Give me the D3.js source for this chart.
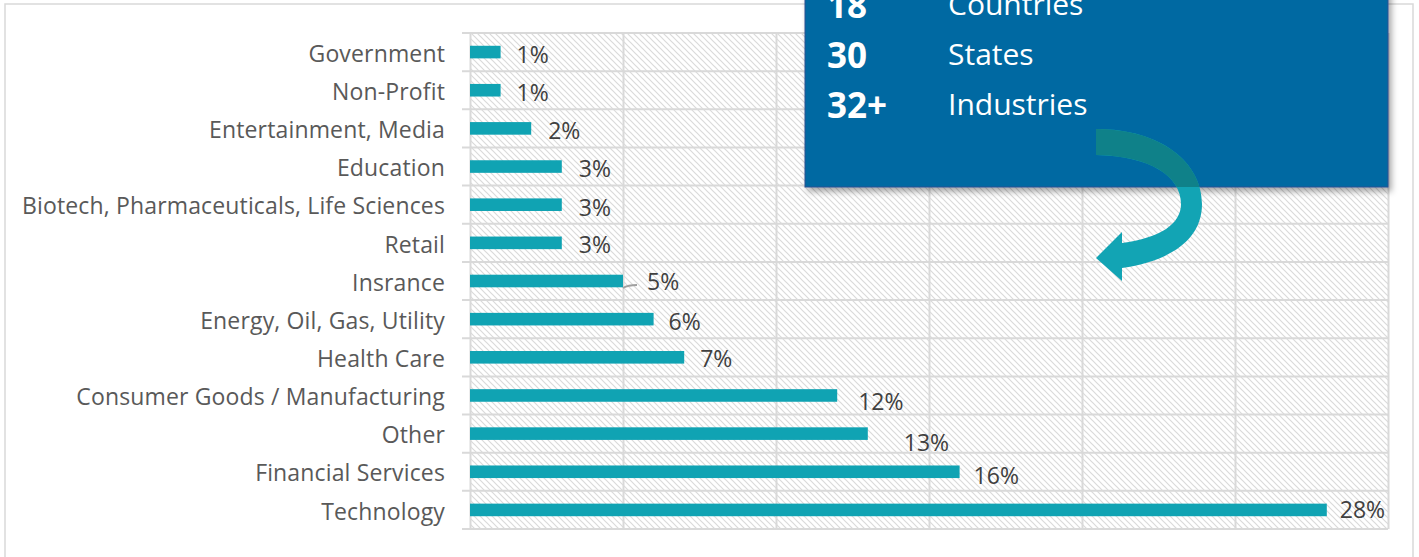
<!DOCTYPE html>
<html>
<head>
<meta charset="utf-8">
<script src="https://cdnjs.cloudflare.com/ajax/libs/d3/7.8.5/d3.min.js"></script>
<style>
  body { margin: 0; background: #fff; }
  .catLabel { font-family: "Open Sans", sans-serif; font-size: 23px; fill: #595959; letter-spacing: 0.15px; }
  .valLabel { font-family: "Open Sans", sans-serif; font-size: 23px; fill: #404040; }
  .statNum { font-family: "Open Sans", sans-serif; font-size: 35px; font-weight: bold; fill: #fff; }
  .statText { font-family: "Open Sans", sans-serif; font-size: 30px; fill: #fff; }
</style>
</head>
<body>
<script>
(function(){

  //chart data
  var categories = ["Government", "Non-Profit", "Entertainment, Media", "Education", "Biotech, Pharmaceuticals, Life Sciences", "Retail", "Insrance", "Energy, Oil, Gas, Utility", "Health Care", "Consumer Goods / Manufacturing", "Other", "Financial Services", "Technology"];
  var shares = [1, 1, 2, 3, 3, 3, 5, 6, 7, 12, 13, 16, 28]; //percent of clients
  var xTicks = [0, 5, 10, 15, 20, 25, 30];
  var statNumbers = ["18", "30", "32+"];
  var statLabels = ["Countries", "States", "Industries"];

  //data label nudges [dx from bar end, dy from row centre], like the hand-placed excel labels
  var labelNudge = [[16,3],[16,3],[17,3],[17,2.5],[17,3],[17,2],[24,1],[15,3],[16,2],[21,6.5],[36,9.5],[14,4],[13,0]];

  window.onload = setChart();

  function setChart(){
    var width = 1419,
        height = 557,
        plotLeft = 470,
        plotRight = 1388,
        plotTop = 33,
        plotBottom = 529;

    var svg = d3.select("body")
      .append("svg")
      .attr("width", width)
      .attr("height", height);

    var defs = svg.append("defs");

    //light diagonal hatch used as plot area fill
    var hatch = defs.append("pattern")
      .attr("id", "hatch")
      .attr("patternUnits", "userSpaceOnUse")
      .attr("width", 6)
      .attr("height", 6);
    hatch.append("path")
      .attr("d", "M-1,-1L7,7M-1,5L1,7M5,-1L7,1")
      .attr("stroke", "#dadada")
      .attr("stroke-width", 1.2);

    var shadow = defs.append("filter")
      .attr("id", "shadow")
      .attr("x", "-10%").attr("y", "-10%")
      .attr("width", "120%").attr("height", "130%");
    shadow.append("feDropShadow")
      .attr("dx", 3).attr("dy", 4)
      .attr("stdDeviation", 3)
      .attr("flood-color", "#000")
      .attr("flood-opacity", 0.35);

    var x = d3.scaleLinear() //share axis, 0 to 30%
      .domain([0, 30])
      .range([plotLeft, plotRight]);

    var y = d3.scaleBand() //one row per industry
      .domain(categories)
      .range([plotTop, plotBottom]);

    var barHeight = y.bandwidth() * 0.33;

    //outer chart frame
    svg.append("rect")
      .attr("x", 5)
      .attr("y", 4)
      .attr("width", 1408)
      .attr("height", 600)
      .attr("fill", "none")
      .attr("stroke", "#d9d9d9")
      .attr("stroke-width", 1.5);

    //plot area background
    svg.append("rect")
      .attr("x", plotLeft)
      .attr("y", plotTop)
      .attr("width", plotRight - plotLeft)
      .attr("height", plotBottom - plotTop)
      .attr("fill", "url(#hatch)");

    //vertical gridlines
    svg.append("g")
      .attr("transform", "translate(0," + plotBottom + ")")
      .call(d3.axisBottom(x).tickValues(xTicks).tickSize(-(plotBottom - plotTop)).tickFormat(""))
      .call(function(g){ g.select(".domain").remove(); })
      .selectAll("line")
      .attr("stroke", "#d9d9d9")
      .attr("stroke-width", 2);

    //horizontal row boundaries with outside tick marks
    var bounds = categories.map(function(c){ return y(c); }).concat([plotBottom]);
    svg.append("g")
      .selectAll("line")
      .data(bounds)
      .enter()
      .append("line")
      .attr("x1", plotLeft - 8)
      .attr("x2", plotRight)
      .attr("y1", function(d){ return d; })
      .attr("y2", function(d){ return d; })
      .attr("stroke", "#d9d9d9")
      .attr("stroke-width", 2);

    //bars
    svg.selectAll(".bar")
      .data(shares)
      .enter()
      .append("rect")
      .attr("class", "bar")
      .attr("x", x(0))
      .attr("y", function(d, i){ return y(categories[i]) + (y.bandwidth() - barHeight) / 2; })
      .attr("width", function(d){ return x(d) - x(0); })
      .attr("height", barHeight)
      .attr("fill", "#10a3b3");

    //category labels
    svg.selectAll(".catLabel")
      .data(categories)
      .enter()
      .append("text")
      .attr("class", "catLabel")
      .attr("x", plotLeft - 25)
      .attr("y", function(d){ return y(d) + y.bandwidth() / 2; })
      .attr("dy", "0.42em")
      .attr("text-anchor", "end")
      .text(function(d){ return d; });

    //leader line for the 5% label
    var insIndex = categories.indexOf("Insrance");
    var insY = y(categories[insIndex]) + y.bandwidth() / 2;
    svg.append("path")
      .attr("d", "M" + x(shares[insIndex]) + "," + (insY + 7) + "Q" + (x(shares[insIndex]) + 5) + "," + (insY + 4) + " " + (x(shares[insIndex]) + 14) + "," + (insY + 4))
      .attr("fill", "none")
      .attr("stroke", "#a0a0a0")
      .attr("stroke-width", 2);

    //value labels
    svg.selectAll(".valLabel")
      .data(shares)
      .enter()
      .append("text")
      .attr("class", "valLabel")
      .attr("x", function(d, i){ return x(d) + labelNudge[i][0]; })
      .attr("y", function(d, i){ return y(categories[i]) + y.bandwidth() / 2 + labelNudge[i][1]; })
      .attr("dy", "0.35em")
      .text(function(d){ return d + "%"; });

    setCallout(svg);
  };

  //blue stats box with curved arrow pointing to the chart
  function setCallout(svg){
    var boxLeft = 805, boxRight = 1388, boxBottom = 187;

    svg.append("rect")
      .attr("x", boxLeft)
      .attr("y", -20)
      .attr("width", boxRight - boxLeft)
      .attr("height", boxBottom + 20)
      .attr("fill", "#0669a2")
      .attr("stroke", "#2c5190")
      .attr("stroke-width", 1)
      .attr("filter", "url(#shadow)");

    var rows = svg.selectAll(".stat")
      .data(statNumbers)
      .enter()
      .append("g")
      .attr("transform", function(d, i){ return "translate(0," + (18 + i * 50) + ")"; });

    rows.append("text")
      .attr("class", "statNum")
      .attr("x", 827)
      .text(function(d){ return d; });

    rows.append("text")
      .attr("class", "statText")
      .attr("x", 948)
      .attr("y", -3)
      .text(function(d, i){ return statLabels[i]; });

    var arrowPath = "M1096,129C1162,129 1202,163 1202,204C1202,240 1170,261 1122,268L1122,281L1096,258L1122,232L1122,243C1160,238 1181,224 1181,204C1181,176 1150,156 1096,155Z";

    svg.select("defs").append("clipPath")
      .attr("id", "inBox")
      .append("rect")
      .attr("x", boxLeft).attr("y", 0)
      .attr("width", boxRight - boxLeft).attr("height", boxBottom);

    svg.append("path") //part over white
      .attr("d", arrowPath)
      .attr("fill", "#12a4b4");

    svg.append("path") //part over the blue box
      .attr("d", arrowPath)
      .attr("fill", "#0f8189")
      .attr("clip-path", "url(#inBox)");
  };
})();
</script>
</body>
</html>
